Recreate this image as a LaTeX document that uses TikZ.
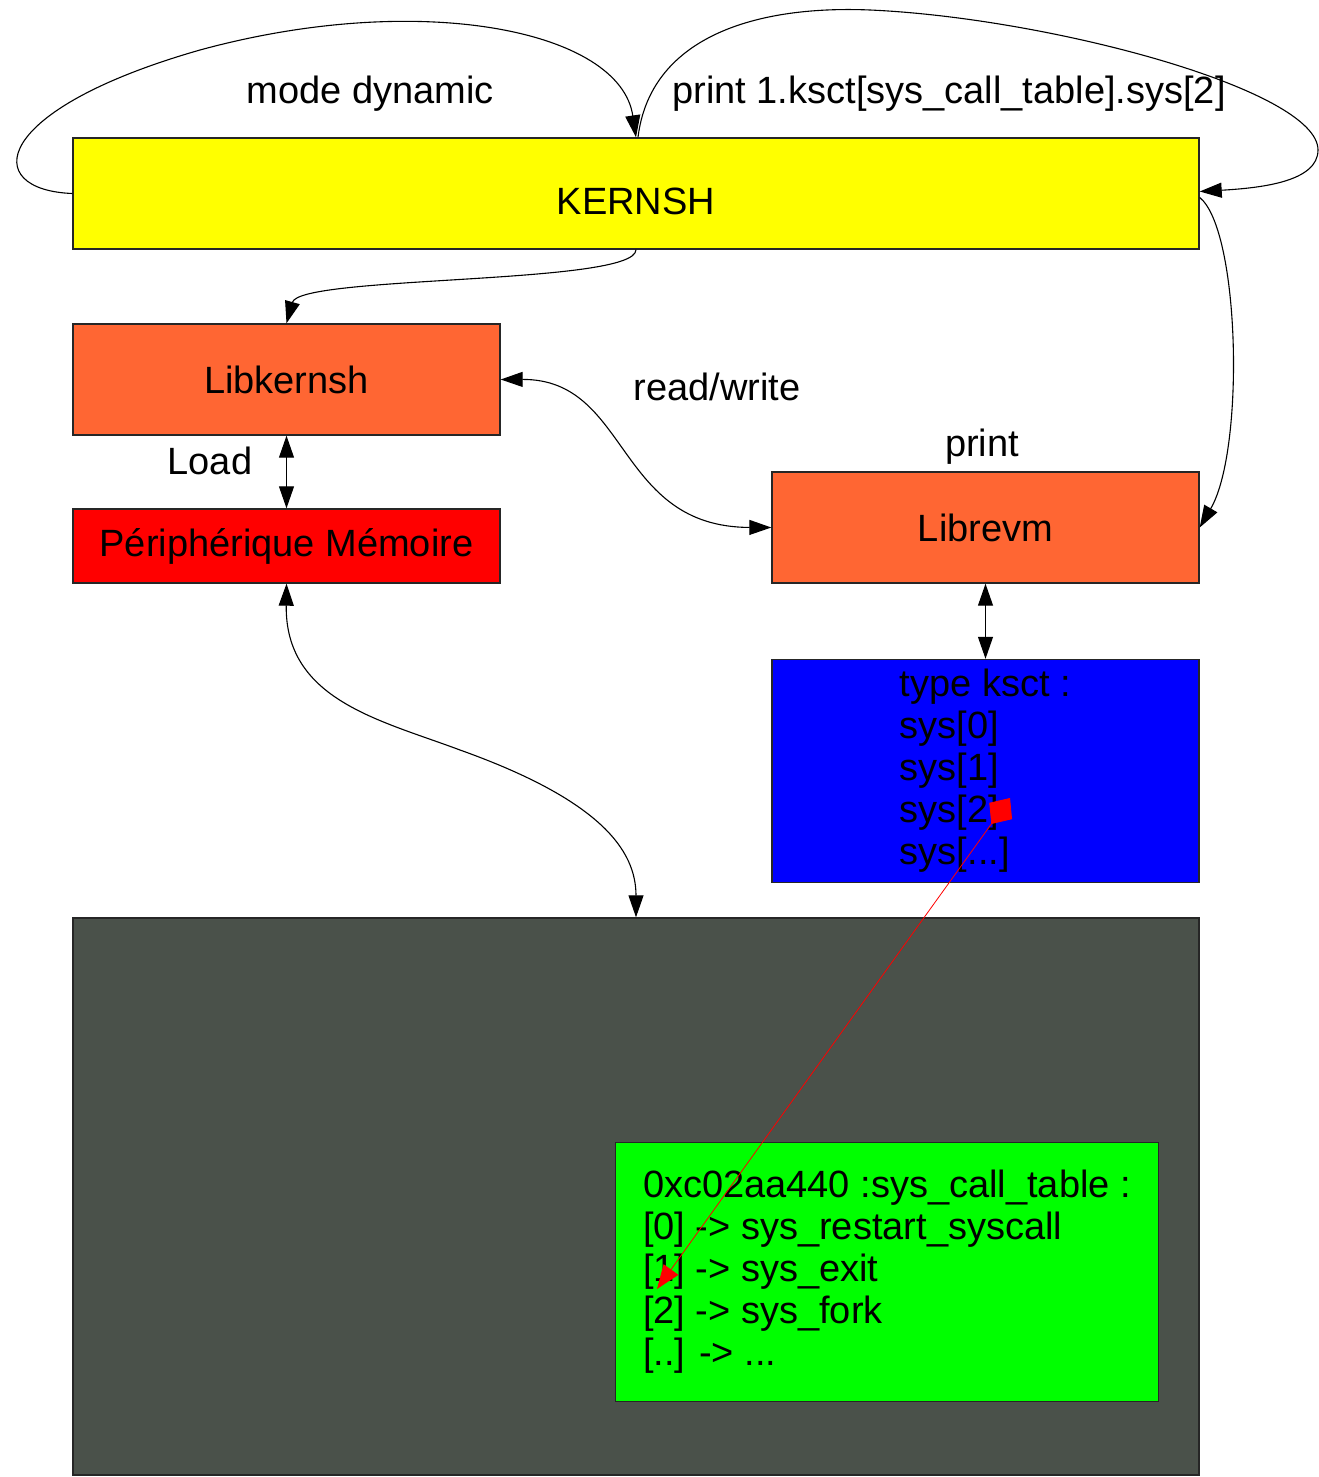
\documentclass[tikz,border=0pt]{standalone}
\usepackage{fontspec}
\setmainfont{Liberation Sans}
\usetikzlibrary{arrows.meta}

\definecolor{kyellow}{HTML}{FFFF00}
\definecolor{korange}{HTML}{FF6633}
\definecolor{kred}{HTML}{FF0000}
\definecolor{kblue}{HTML}{0000FF}
\definecolor{kdark}{HTML}{4A514A}
\definecolor{kgreen}{HTML}{00FF00}

\tikzset{
  box/.style={draw=black!85, line width=0.7pt, rectangle, inner sep=0pt,
    font=\fontsize{19}{21}\selectfont},
  lbl/.style={inner sep=0pt, font=\fontsize{19}{21}\selectfont},
  conn/.style={draw=black, line width=0.55pt, -{Triangle[length=11pt,width=7.5pt]}},
  biconn/.style={draw=black, line width=0.55pt,
    {Triangle[length=11pt,width=7.5pt]}-{Triangle[length=11pt,width=7.5pt]}},
  ptr/.style={draw=kred, line width=0.4pt,
    {Diamond[length=16pt,width=14pt]}-{Triangle[length=12pt,width=9pt]}}
}

\begin{document}
\begin{tikzpicture}[x=0.5pt, y=-0.5pt]
  \useasboundingbox (0,0) rectangle (1318,1477);

  % boxes
  \node[box, fill=kyellow, minimum width=563pt, minimum height=55.5pt] (kernsh) at (636,193.5)
    {\raisebox{-4pt}[\height][\depth]{KERNSH}};
  \node[box, fill=korange, minimum width=213.5pt, minimum height=55.5pt] (libk) at (286.5,379.5) {Libkernsh};
  \node[box, fill=kred, minimum width=213.5pt, minimum height=37pt] (peri) at (286.5,546) {Périphérique Mémoire};
  \node[box, fill=korange, minimum width=213.5pt, minimum height=55.5pt] (librevm) at (985.5,527.5) {Librevm};
  \node[box, fill=kblue, minimum width=213.5pt, minimum height=111.5pt, align=left] (ksct) at (985.5,771)
    {type ksct :\\sys[0]\\sys[1]\\sys[2]\\sys[...]};
  \node[box, fill=kdark, minimum width=563pt, minimum height=278.5pt] (mem) at (636,1196.5) {};
  \node[box, fill=kgreen, minimum width=271.5pt, minimum height=129.5pt, align=left] (table) at (887,1272)
    {0xc02aa440 :sys\_call\_table :\\{}[0] -> sys\_restart\_syscall\\{}[1] -> sys\_exit\\{}[2] -> sys\_fork\\{}[..] -> ...};

  % edge labels
  \node[lbl, anchor=base] (lmode) at (370,104) {mode dynamic};
  \node[lbl, anchor=base west] (lprint) at (672,104) {print 1.ksct[sys\_call\_table].sys[2]};
  \node[lbl, anchor=base] (lrw) at (717,400) {read/write};
  \node[lbl, anchor=base] (lpr) at (982,456) {print};
  \node[lbl, anchor=base] (lload) at (210,474) {Load};

  % self loops on KERNSH
  \draw[conn] (kernsh.west) .. controls (-20,190) and (-10,110) .. (200,50)
    .. controls (420,-10) and (620,30) .. (kernsh.north);
  \draw[conn] ([xshift=1pt]kernsh.north) .. controls (650,40) and (750,5) .. (870,10)
    .. controls (1050,18) and (1318,90) .. (1318,150)
    .. controls (1318,182) and (1260,188) .. ([yshift=1pt]kernsh.east);

  % KERNSH to libraries
  \draw[conn] (kernsh.south) .. controls (636,285) and (300,275) .. (libk.north);
  \draw[conn] ([yshift=-2pt]kernsh.east) .. controls (1240,230) and (1245,450) .. (librevm.east);

  % read/write between libraries
  \draw[biconn] (libk.east) .. controls (630,379) and (615,527) .. (librevm.west);

  % vertical links
  \draw[biconn] (libk.south) -- (peri.north);
  \draw[biconn] (librevm.south) -- (ksct.north);

  % memory device to kernel memory
  \draw[biconn] (peri.south) .. controls (285,700) and (380,720) .. (460,750)
    .. controls (600,800) and (636,850) .. (mem.north);

  % pointer from sys[2] into the syscall table
  \coordinate (sysslot) at (1010,798);
  \coordinate (exitslot) at (657,1289);
  \draw[ptr] (sysslot) -- (exitslot);
\end{tikzpicture}
\end{document}
